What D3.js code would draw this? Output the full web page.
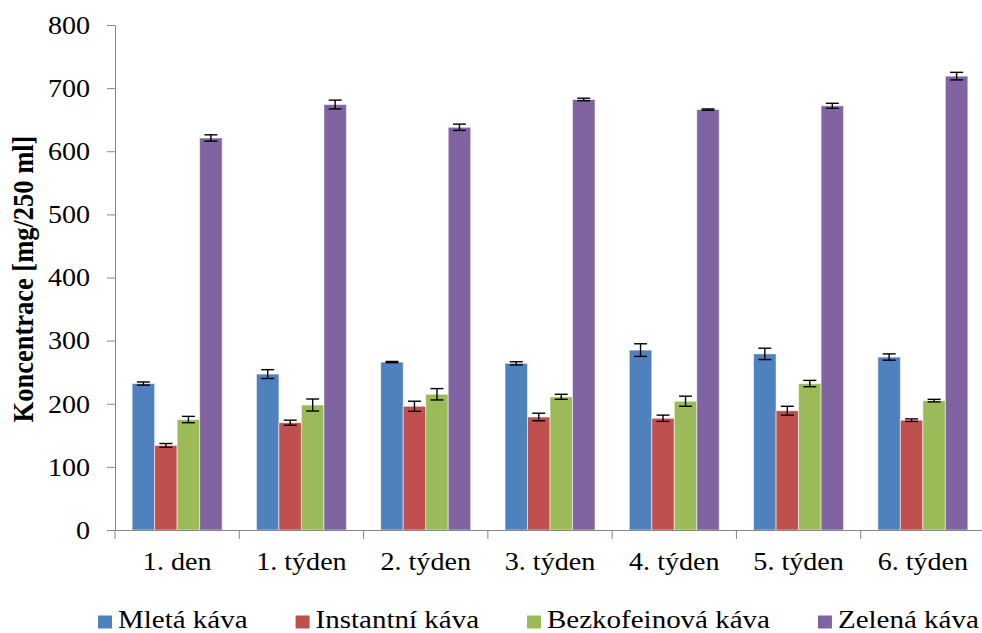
<!DOCTYPE html>
<html>
<head>
<meta charset="utf-8">
<script src="https://cdn.jsdelivr.net/npm/d3@7"></script>
<style>
  html, body { margin: 0; padding: 0; background: #fff; }
  svg { display: block; }
  text { font-family: "Liberation Serif", "Times New Roman", Times, "Nimbus Roman", Tinos, serif; fill: #000; }
</style>
</head>
<body>
<svg id="chart" width="982" height="633"></svg>
<script>
// ---- data ----
const categories = ["1. den", "1. týden", "2. týden", "3. týden", "4. týden", "5. týden", "6. týden"];
const seriesNames = ["Mletá káva", "Instantní káva", "Bezkofeinová káva", "Zelená káva"];
const mletaValues = [232, 247, 266, 264, 285, 279, 274];
const mletaErrors = [2.5, 7, 1, 2.5, 10, 9, 5];
const instantniValues = [134, 170, 196, 179, 177, 189, 174];
const instantniErrors = [3, 4, 8, 6, 5, 7, 2];
const bezkofValues = [175, 198, 215, 211, 204, 232, 205];
const bezkofErrors = [5, 9.5, 9, 4, 8, 5, 2];
const zelenaValues = [621, 674, 638, 682, 666, 672, 719];
const zelenaErrors = [5, 7, 5, 2, 1, 4, 6];
const yTicks = [0, 100, 200, 300, 400, 500, 600, 700, 800];
const yLabel = "Koncentrace [mg/250 ml]";
const colors = ["#4F81BD", "#C0504D", "#9BBB59", "#8064A2"];

const seriesValues = [mletaValues, instantniValues, bezkofValues, zelenaValues];
const seriesErrors = [mletaErrors, instantniErrors, bezkofErrors, zelenaErrors];

// ---- layout ----
const svg = d3.select("#chart");
const mLeft = 115, mRight = 985, mTop = 25, mBottom = 530;
const sx = 1.08; // horizontal stretch of text
const FONT = '"Liberation Serif", "Times New Roman", Times, "Nimbus Roman", Tinos, serif';

const x = d3.scaleBand().domain(categories).range([mLeft, mRight]).paddingInner(0.276).paddingOuter(0.138);
const x1 = d3.scaleBand().domain(d3.range(seriesNames.length)).range([0, x.bandwidth()]);
const y = d3.scaleLinear().domain([0, 800]).range([mBottom, mTop]);

function stretch(sel, s) {
  sel.each(function() {
    const t = d3.select(this);
    const tx = +t.attr("x") || 0;
    t.attr("transform", `translate(${tx},0) scale(${s},1)`).attr("x", 0);
  });
}

// bars
const groups = svg.append("g").selectAll("g")
  .data(categories).join("g")
  .attr("transform", d => `translate(${x(d)},0)`);

seriesNames.forEach((name, si) => {
  groups.append("rect")
    .attr("x", (d, i) => x1(si))
    .attr("width", x1.bandwidth())
    .attr("y", (d, i) => y(seriesValues[si][i]))
    .attr("height", (d, i) => y(0) - y(seriesValues[si][i]))
    .attr("fill", colors[si])
    .attr("stroke", "rgba(255,255,255,0.55)")
    .attr("stroke-width", 1);
});

// error bars
const capW = 13;
seriesNames.forEach((name, si) => {
  const eg = groups.append("g").attr("stroke", "#000").attr("stroke-width", 1.4);
  eg.append("line")
    .attr("x1", () => x1(si) + x1.bandwidth() / 2)
    .attr("x2", () => x1(si) + x1.bandwidth() / 2)
    .attr("y1", (d, i) => y(seriesValues[si][i] - seriesErrors[si][i]))
    .attr("y2", (d, i) => y(seriesValues[si][i] + seriesErrors[si][i]));
  [-1, 1].forEach(sgn => {
    eg.append("line")
      .attr("x1", () => x1(si) + x1.bandwidth() / 2 - capW / 2)
      .attr("x2", () => x1(si) + x1.bandwidth() / 2 + capW / 2)
      .attr("y1", (d, i) => y(seriesValues[si][i] + sgn * seriesErrors[si][i]))
      .attr("y2", (d, i) => y(seriesValues[si][i] + sgn * seriesErrors[si][i]));
  });
});

// y axis
const yAxis = svg.append("g")
  .attr("transform", `translate(${mLeft},0)`)
  .call(d3.axisLeft(y).tickValues(yTicks).tickSize(8).tickPadding(17).tickSizeOuter(0));
yAxis.attr("font-family", null).attr("font-size", null);
yAxis.select(".domain").attr("stroke", "#868686");
yAxis.selectAll(".tick line").attr("stroke", "#868686");
yAxis.selectAll(".tick text")
  .style("font-family", FONT)
  .style("font-size", "26px");
stretch(yAxis.selectAll(".tick text"), sx);

// x axis
const xAxis = svg.append("g")
  .attr("transform", `translate(0,${mBottom})`)
  .call(d3.axisBottom(x).tickSize(0).tickSizeOuter(0));
xAxis.attr("font-family", null).attr("font-size", null);
xAxis.select(".domain").attr("stroke", "#868686").attr("d", `M${mLeft},0.5H${mRight}`);
xAxis.selectAll(".tick line").remove();
xAxis.selectAll(".tick text")
  .attr("y", 40).attr("dy", 0)
  .style("font-family", FONT)
  .style("font-size", "26px");
stretch(xAxis.selectAll(".tick text"), sx);
// group separators
const seps = d3.range(categories.length + 1).map(i => mLeft + i * (mRight - mLeft) / categories.length);
xAxis.append("g").selectAll("line").data(seps).join("line")
  .attr("x1", d => d).attr("x2", d => d)
  .attr("y1", 0).attr("y2", 9)
  .attr("stroke", "#868686");

// y label
svg.append("text")
  .attr("transform", `translate(33,279) scale(1.1,1) rotate(-90)`)
  .attr("text-anchor", "middle")
  .style("font-family", FONT)
  .style("font-size", "26.5px")
  .style("font-weight", "bold")
  .text(yLabel);

// legend
const legend = svg.append("g");
let lx = 98;
const lsx = 1.16;
seriesNames.forEach((name, si) => {
  legend.append("rect")
    .attr("x", lx).attr("y", 615.5)
    .attr("width", 14).attr("height", 13)
    .attr("fill", colors[si]);
  const t = legend.append("text")
    .attr("transform", `translate(${lx + 20},627.5) scale(${lsx},1)`)
    .style("font-family", FONT)
    .style("font-size", "25px")
    .text(name);
  const w = t.node().getComputedTextLength() * lsx;
  lx = lx + 20 + w + 48;
});
</script>
</body>
</html>
